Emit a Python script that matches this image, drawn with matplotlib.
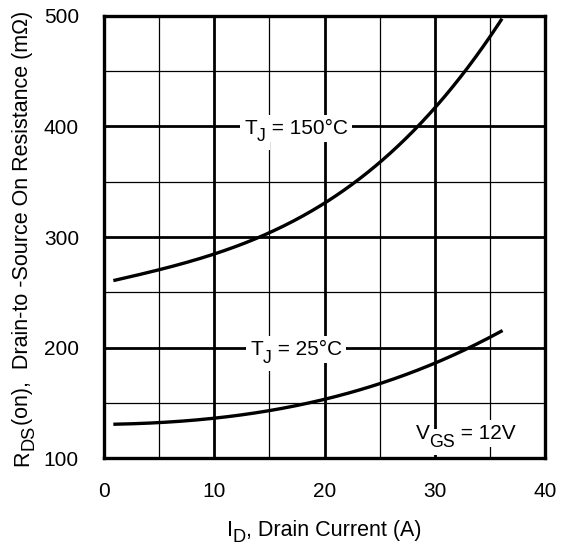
import matplotlib
matplotlib.use("Agg")
import matplotlib.pyplot as plt
from matplotlib.transforms import offset_copy
import numpy as np

plt.rcParams['font.family'] = ['Liberation Sans', 'DejaVu Sans']

# drain current (A) and on-resistance (mOhm)
id_150 = [1, 5, 10, 15, 20, 25, 30, 33, 35, 36]
rds_150 = [261, 270, 285, 304, 332, 364, 419, 455, 480, 496]

id_25 = [1, 5, 10, 15, 20, 25, 30, 33, 36]
rds_25 = [130.8, 132, 136, 143, 153.4, 167.6, 185.7, 199, 215]

x_ticks = [0, 10, 20, 30, 40]
y_ticks = [100, 200, 300, 400, 500]

DPI = 100
SUB = 0.85   # subscript size relative to main text


def smooth(xs, ys, n=200):
    xs = np.asarray(xs, float)
    ys = np.asarray(ys, float)
    xx = np.linspace(xs[0], xs[-1], n)
    p = np.polyfit(xs, ys, 3)
    return xx, np.polyval(p, xx)


def draw_runs(fig, target, x, y, runs, size, transform, rotation=0,
              center_caps=False, box=None, drop=0.36, zorder=4):
    """draw text made of (string, is_subscript) pieces, centred on x, y"""
    renderer = fig.canvas.get_renderer()
    em = size * DPI / 72.0
    widths = []
    for s, sub in runs:
        t = fig.text(0, 0, s, fontsize=size * SUB if sub else size)
        widths.append(t.get_window_extent(renderer).width)
        t.remove()
    th = np.deg2rad(rotation)
    along = np.array([np.cos(th), np.sin(th)])
    down = np.array([np.sin(th), -np.cos(th)])
    base = 0.36 * em if center_caps else 0.0
    # first pass: white boxes only, second pass: the glyphs on top
    passes = [(box, 'none', zorder - 0.5), (None, 'black', zorder)] if box else [(None, 'black', zorder)]
    for bb, col, z in passes:
        pos = -sum(widths) / 2.0
        for (s, sub), w in zip(runs, widths):
            d = pos * along + (down * (drop * em) if sub else 0) + down * base
            tr = offset_copy(transform, fig=fig, x=d[0], y=d[1], units='dots')
            target.text(x, y, s, transform=tr, rotation=rotation, rotation_mode='anchor',
                        ha='left', va='baseline', fontsize=size * SUB if sub else size,
                        color=col, bbox=bb, zorder=z)
            pos += w


fig = plt.figure(figsize=(5.65, 5.48), dpi=DPI)
ax = fig.add_axes([0.184, 0.164, 0.781, 0.807])

ax.set_xlim(0, 40)
ax.set_ylim(100, 500)

# grid: thin every 5 A / 50 mOhm, heavy every 10 A / 100 mOhm
for xv in np.arange(5, 40, 5):
    ax.axvline(xv, color='black', lw=2.0 if xv % 10 == 0 else 0.9, zorder=1)
for yv in np.arange(150, 500, 50):
    ax.axhline(yv, color='black', lw=2.0 if yv % 100 == 0 else 0.9, zorder=1)

xx, yy = smooth(id_150, rds_150)
ax.plot(xx, yy, color='black', lw=2.4, zorder=3)
xx, yy = smooth(id_25, rds_25)
ax.plot(xx, yy, color='black', lw=2.4, zorder=3)

box = dict(facecolor='white', edgecolor='none', pad=3.0)
draw_runs(fig, ax, 17.4, 400, [('T', False), ('J', True), (' = 150°C', False)], 15,
          ax.transData, center_caps=True, box=box)
draw_runs(fig, ax, 17.4, 200, [('T', False), ('J', True), (' = 25°C', False)], 15,
          ax.transData, center_caps=True, box=box)
draw_runs(fig, ax, 32.8, 124, [('V', False), ('GS', True), (' = 12V', False)], 15,
          ax.transData, center_caps=True, box=box)

ax.set_xticks(x_ticks)
ax.set_yticks(y_ticks)
ax.tick_params(length=0, labelsize=15)
ax.tick_params(axis='x', pad=17)
ax.tick_params(axis='y', pad=18)

for s in ax.spines.values():
    s.set_linewidth(2.4)
    s.set_zorder(5)

# axis titles
draw_runs(fig, fig, 0.574, 1 - 536 / 548, [('I', False), ('D', True), (', Drain Current (A)', False)],
          15.5, fig.transFigure, drop=0.27)
draw_runs(fig, fig, 28 / 565, 1 - 238.5 / 548,
          [('R', False), ('DS', True), ('(on),  Drain-to -Source On Resistance (m\u03a9)', False)],
          15.5, fig.transFigure, rotation=90, drop=0.27)

fig.savefig('out.png', dpi=DPI)
